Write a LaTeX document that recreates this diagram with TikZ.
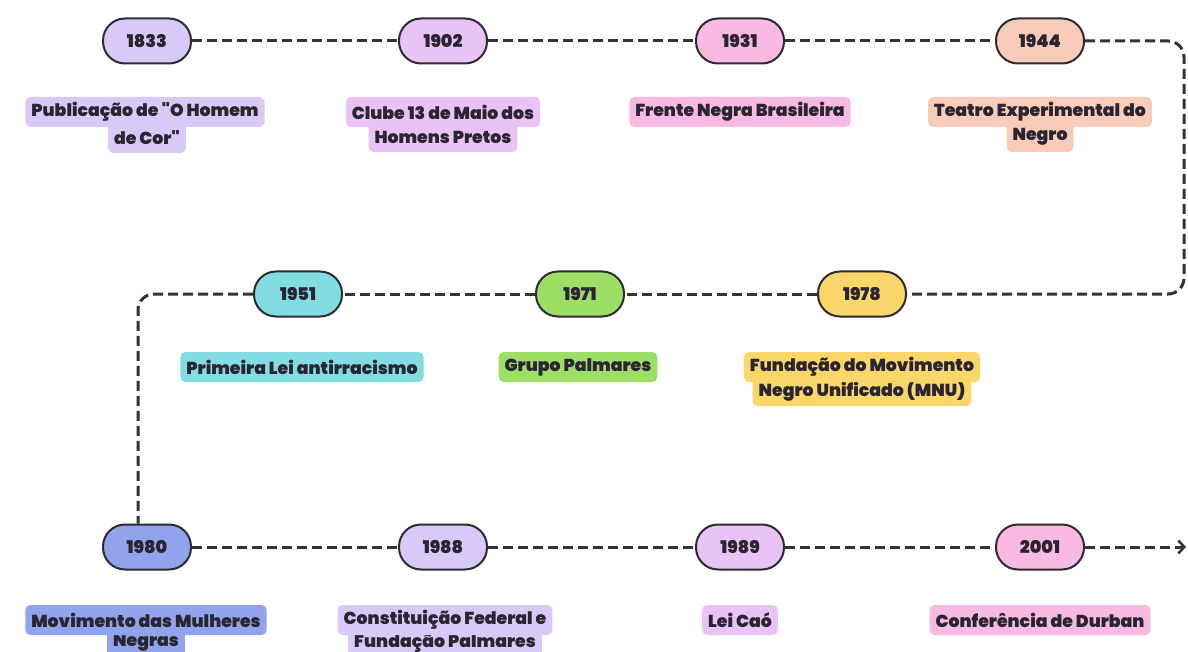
\documentclass[tikz,border=0pt]{standalone}
\usepackage{fontspec}
\setmainfont{Poppins}[BoldFont={Poppins Black}, Ligatures=TeXOff]
\usetikzlibrary{arrows.meta}
\definecolor{ink}{HTML}{2A2530}
\definecolor{pillline}{HTML}{2E2A30}
\definecolor{linecol}{HTML}{333333}
\definecolor{cLav}{HTML}{D9C9F8}
\definecolor{cOrch}{HTML}{E9C3F6}
\definecolor{cPink}{HTML}{F8B9E2}
\definecolor{cPeach}{HTML}{F9CCBA}
\definecolor{cCyan}{HTML}{82DDE3}
\definecolor{cGreen}{HTML}{9DDE66}
\definecolor{cYellow}{HTML}{FBD66A}
\definecolor{cBlue}{HTML}{91A3EC}
\newcommand{\yearfont}{\fontsize{17.5}{20}\selectfont\bfseries}
\newcommand{\tagfont}{\fontsize{17.3}{20}\selectfont\bfseries}
\begin{document}
\begin{tikzpicture}[x=1pt,y=-1pt,
  pill/.style={draw=pillline, line width=2pt, rounded corners=22pt, minimum width=88pt, minimum height=45pt, inner sep=0pt, text=ink, font=\yearfont},
  tag/.style={rounded corners=5pt, inner xsep=6pt, inner ysep=0pt, minimum height=30pt, text=ink, font=\tagfont},
  link/.style={draw=linecol, line width=3pt, dash pattern=on 10pt off 5pt}]
\useasboundingbox (0,0) rectangle (1188,652);
\fill[white] (0,0) rectangle (1188,652);

\coordinate (c1) at (1184,41);
\coordinate (c2) at (1184,294);
\coordinate (c3) at (138,294);
\coordinate (aend) at (1186,547);

% pills
\node[pill, fill=cLav]    (p1833) at (147,41) {1833};
\node[pill, fill=cOrch]   (p1902) at (443,41) {1902};
\node[pill, fill=cPink]   (p1931) at (740,41) {1931};
\node[pill, fill=cPeach]  (p1944) at (1040,41) {1944};
\node[pill, fill=cCyan]   (p1951) at (298,294) {1951};
\node[pill, fill=cGreen]  (p1971) at (580,294) {1971};
\node[pill, fill=cYellow] (p1978) at (862,294) {1978};
\node[pill, fill=cBlue]   (p1980) at (147,547) {1980};
\node[pill, fill=cLav]    (p1988) at (443,547) {1988};
\node[pill, fill=cOrch]   (p1989) at (740,547) {1989};
\node[pill, fill=cPink]   (p2001) at (1040,547) {2001};

\draw[link] (p1833) -- (p1902);
\draw[link] (p1902) -- (p1931);
\draw[link] (p1931) -- (p1944);
\draw[link, rounded corners=16pt] (p1944.east) -- (c1) -- (c2) -- (p1978.east);
\draw[link] (p1978) -- (p1971);
\draw[link] (p1971) -- (p1951);
\draw[link, rounded corners=16pt] (p1951.west) -- (c3) -- (p1980.north -| c3);
\draw[link] (p1980) -- (p1988);
\draw[link] (p1988) -- (p1989);
\draw[link] (p1989) -- (p2001);
\draw[link, -{Straight Barb[length=6pt,width=13pt,line width=2.5pt]}] (p2001.east) -- (aend);

% labels
\node[tag, fill=cLav] (l1833b) at (147,138) {de Cor"};
\node[tag, fill=cLav] (l1833a) at (145,112) {Publicação de "O Homem};
\node[tag, fill=cOrch] (l1902b) at (443,137) {Homens Pretos};
\node[tag, fill=cOrch] (l1902a) at (443,112) {Clube 13 de Maio dos};
\node[tag, fill=cPink] (l1931) at (740,112) {Frente Negra Brasileira};
\node[tag, fill=cPeach] (l1944b) at (1040,137) {Negro};
\node[tag, fill=cPeach] (l1944a) at (1040,112) {Teatro Experimental do};

\node[tag, fill=cCyan] (l1951) at (302,367) {Primeira Lei antirracismo};
\node[tag, fill=cGreen] (l1971) at (578,367) {Grupo Palmares};
\node[tag, fill=cYellow] (l1978b) at (862,391) {Negro Unificado (MNU)};
\node[tag, fill=cYellow] (l1978a) at (862,367) {Fundação do Movimento};

\node[tag, fill=cBlue] (l1980b) at (146,643) {Negras};
\node[tag, fill=cBlue] (l1980a) at (146,620) {Movimento das Mulheres};
\node[tag, fill=cLav] (l1988b) at (445,643) {Fundação Palmares};
\node[tag, fill=cLav] (l1988a) at (445,620) {Constituição Federal e};
\node[tag, fill=cOrch] (l1989) at (740,620) {Lei Caó};
\node[tag, fill=cPink] (l2001) at (1040,620) {Conferência de Durban};
\end{tikzpicture}
\end{document}
